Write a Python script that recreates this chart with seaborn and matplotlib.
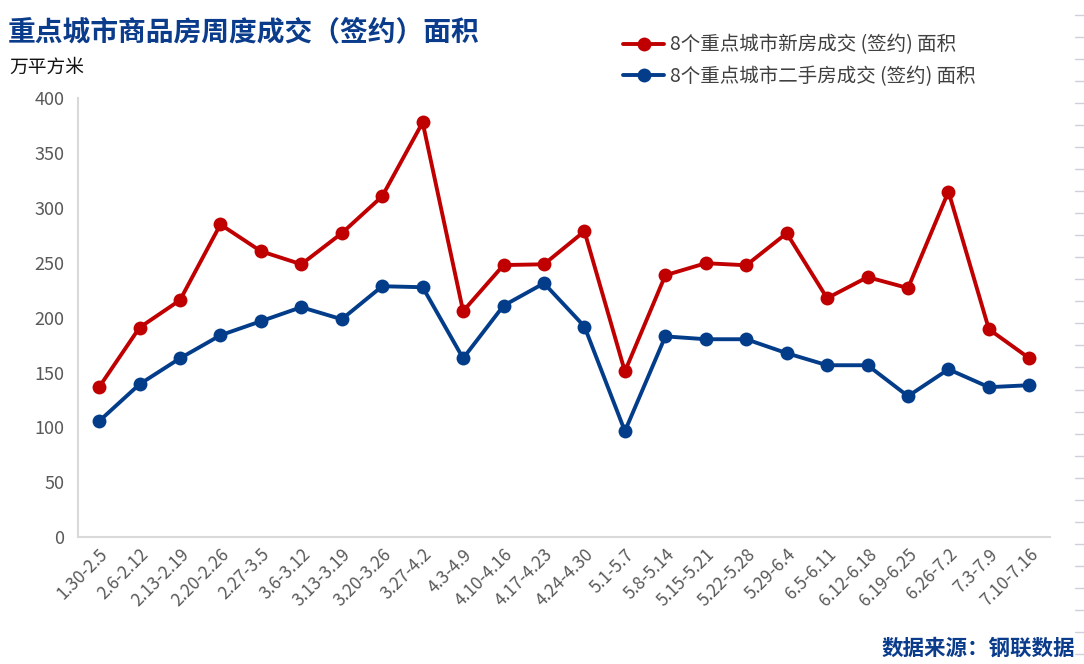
import numpy as np
import pandas as pd
import matplotlib.pyplot as plt
import seaborn as sns

sns.set_style('white')
plt.rcParams['font.family'] = ['Noto Sans CJK SC', 'DejaVu Sans']

# data
weeks = ['1.30-2.5', '2.6-2.12', '2.13-2.19', '2.20-2.26', '2.27-3.5', '3.6-3.12',
         '3.13-3.19', '3.20-3.26', '3.27-4.2', '4.3-4.9', '4.10-4.16', '4.17-4.23',
         '4.24-4.30', '5.1-5.7', '5.8-5.14', '5.15-5.21', '5.22-5.28', '5.29-6.4',
         '6.5-6.11', '6.12-6.18', '6.19-6.25', '6.26-7.2', '7.3-7.9', '7.10-7.16']
new_house = [136.7, 191, 216, 285, 260.6, 248.7, 277, 310.7, 378, 206, 248, 248.7,
             278.8, 151, 238.7, 249.7, 247.8, 277, 217.8, 237, 227, 315, 189.5, 163]
second_hand = [105.7, 139.4, 163, 184, 196.8, 209.6, 198.6, 228.7, 227.8, 163, 211, 231.4,
               192, 96.6, 183, 180.4, 180.4, 167.7, 156.7, 156.7, 128.5, 153, 136.7, 138.5]
series_names = ['8个重点城市新房成交 (签约) 面积', '8个重点城市二手房成交 (签约) 面积']
series_colors = ['#C00000', '#033D8A']

df = pd.DataFrame({'idx': np.arange(len(weeks)), 'week': weeks,
                   series_names[0]: new_house, series_names[1]: second_hand})
long = df.melt(id_vars=['idx', 'week'], var_name='series', value_name='area')

fig = plt.figure(figsize=(10.84, 6.64), dpi=100)
ax = fig.add_axes([0.072, 0.191, 0.897, 0.661])

for name, col in zip(series_names, series_colors):
    sel = long[long['series'] == name]
    sns.lineplot(data=sel, x='idx', y='area', ax=ax, color=col, linewidth=2.8,
                 marker='o', markersize=10, markeredgewidth=0, label=name)

ax.set_xlim(-0.52, len(weeks) - 0.48)
ax.set_ylim(0, 400)
ax.set_yticks(range(0, 401, 50))
ax.set_xticks(range(len(weeks)))
ax.set_xticklabels(weeks, rotation=45, ha='right', rotation_mode='anchor')
ax.tick_params(axis='x', length=0, labelsize=12.5, labelcolor='#595959', pad=6)
ax.tick_params(axis='y', length=0, labelsize=13, labelcolor='#595959', pad=10)
ax.set_xlabel('')
ax.set_ylabel('')

for s in ['top', 'right']:
    ax.spines[s].set_visible(False)
for s in ['left', 'bottom']:
    ax.spines[s].set_color('#D9D9D9')
    ax.spines[s].set_linewidth(1.5)

leg = ax.legend(loc='upper left', frameon=False, fontsize=14, labelspacing=0.55,
                handlelength=2.1, handletextpad=0.3, borderaxespad=0)
leg.set_bbox_to_anchor((0.568, 0.96), transform=fig.transFigure)
for t in leg.get_texts():
    t.set_color('#404040')

# faint right-edge tick marks
for yy in np.arange(0.015, 0.98, 0.0332):
    fig.add_artist(plt.Line2D([0.992, 1.0], [yy, yy], color='#D0D0DC', lw=1))

fig.text(0.007, 0.952, '重点城市商品房周度成交（签约）面积', fontsize=20, fontweight='bold',
         color='#0B3C8C', va='center')
fig.text(0.009, 0.898, '万平方米', fontsize=13.5, color='#111111', va='center')
fig.text(0.992, 0.024, '数据来源：钢联数据', fontsize=15.5, fontweight='bold',
         color='#0B3C8C', ha='right', va='center')

plt.savefig('out.png', dpi=100)
